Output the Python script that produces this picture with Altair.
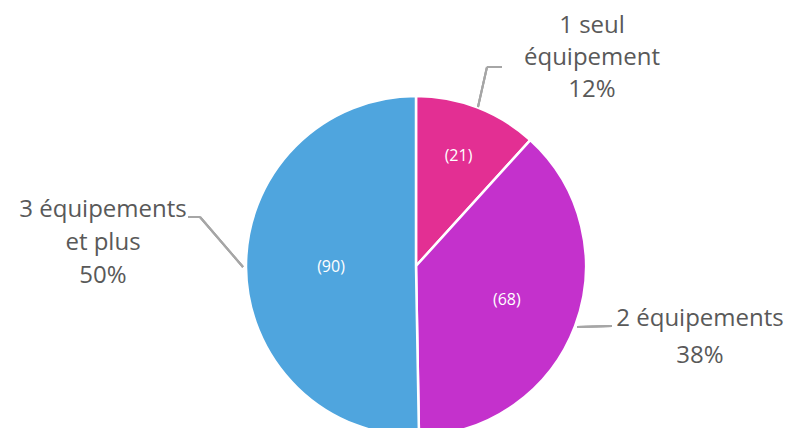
import altair as alt
import pandas as pd

categories = ["1 seul équipement", "2 équipements", "3 équipements et plus"]
label_names = ["1 seul\néquipement", "2 équipements", "3 équipements\net plus"]
counts = [21, 68, 90]
colors = ["#E32F93", "#C431CC", "#4FA5DE"]

total = sum(counts)
df = pd.DataFrame({
    "cat": categories,
    "name": label_names,
    "n": counts,
    "order": list(range(len(categories))),
})
df["inner"] = ["(" + str(v) + ")" for v in counts]
df["outer"] = [nm + "\n" + str(round(v / total * 100)) + "%" for nm, v in zip(label_names, counts)]

FONT = "Open Sans"
GREY = "#595959"
LEAD = "#A6A6A6"

base = alt.Chart(df).encode(
    theta=alt.Theta("n:Q", stack=True),
    order=alt.Order("order:Q"),
)

pie = base.mark_arc(outerRadius=170, stroke="white", strokeWidth=2.5).encode(
    color=alt.Color("cat:N", scale=alt.Scale(domain=categories, range=colors), legend=None)
)

inner_radii = {"1 seul équipement": 118, "2 équipements": 97, "3 équipements et plus": 85}
inner_layers = [
    base.transform_calculate(
        t=f"datum.cat == '{c}' ? datum.inner : ''"
    ).mark_text(
        radius=r, font=FONT, fontSize=16, color="white"
    ).encode(text="t:N")
    for c, r in inner_radii.items()
]

outer_pos = {
    "1 seul équipement": (548, -78, 32),
    "2 équipements": (656, 215, 37),
    "3 équipements et plus": (59, 106, 33),
}
outer_layers = [
    alt.Chart(df).transform_filter(alt.datum.cat == c).mark_text(
        font=FONT, fontSize=24, color=GREY, align="center", baseline="middle",
        lineBreak="\n", lineHeight=lh
    ).encode(x=alt.value(x), y=alt.value(y), text="outer:N")
    for c, (x, y, lh) in outer_pos.items()
]

segments = [
    (434, 3, 443, -37), (443, -37, 458, -37),
    (199, 163, 156, 113), (156, 113, 144, 113),
    (533, 223, 568, 222),
]
lead_layers = [
    alt.Chart(df).mark_rule(color=LEAD, strokeWidth=2).encode(
        x=alt.value(x1), y=alt.value(y1), x2=alt.value(x2), y2=alt.value(y2)
    )
    for (x1, y1, x2, y2) in segments
]

chart = alt.layer(pie, *inner_layers, *lead_layers, *outer_layers).properties(
    width=744, height=324,
    padding={"left": 36, "top": 96, "right": 0, "bottom": 0},
    autosize=alt.AutoSizeParams(type="none"),
    background="white",
).configure_view(stroke=None)

chart.save("out.html", embed_options={"renderer": "svg", "actions": False})
